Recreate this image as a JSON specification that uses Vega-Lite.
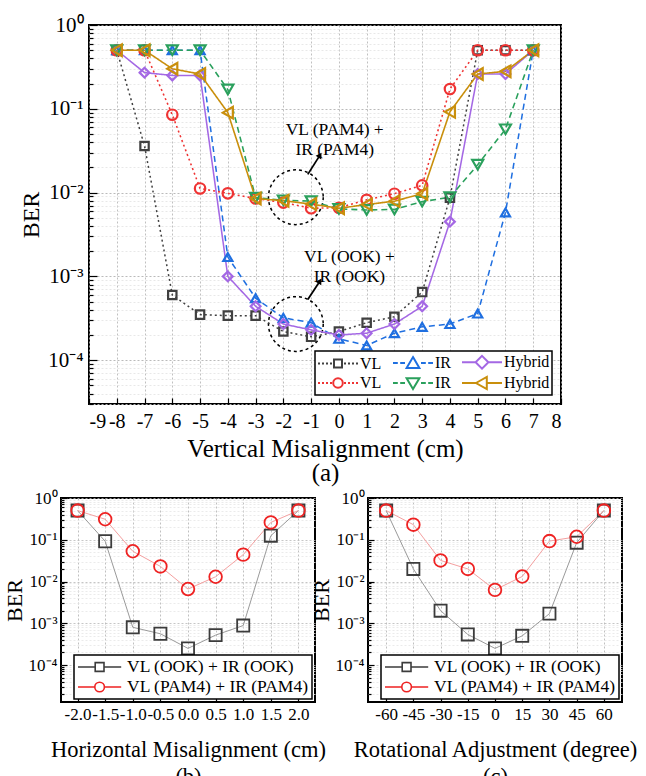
{
  "$schema": "https://vega.github.io/schema/vega-lite/v6.json",
  "padding": {"top": 13, "left": 2, "right": 0, "bottom": 0},
  "spacing": 2,
  "config": {
    "font": "Liberation Serif",
    "view": {"stroke": "black", "strokeWidth": 2},
    "axis": {"labelFont": "Liberation Serif", "titleFont": "Liberation Serif", "labelColor": "black", "titleColor": "black", "titleFontWeight": "normal", "domain": false, "tickColor": "black", "tickWidth": 1.2, "gridColor": "#b0b0b0", "gridDash": [2, 2], "gridWidth": 0.8, "labelOverlap": false},
    "legend": {"labelFont": "Liberation Serif", "labelColor": "black", "strokeColor": "black", "fillColor": "white", "strokeWidth": 1.5, "symbolOpacity": 1, "symbolStrokeWidth": 2, "symbolFillColor": "transparent", "labelLimit": 400},
    "text": {"font": "Liberation Serif"}
  },
  "datasets": {
    "va": [
      {"x": -8, "y": 0.5, "s": "VL OOK"}, {"x": -7, "y": 0.036, "s": "VL OOK"}, {"x": -6, "y": 0.0006, "s": "VL OOK"}, {"x": -5, "y": 0.00035, "s": "VL OOK"}, {"x": -4, "y": 0.00034, "s": "VL OOK"}, {"x": -3, "y": 0.00034, "s": "VL OOK"}, {"x": -2, "y": 0.00022, "s": "VL OOK"}, {"x": -1, "y": 0.00019, "s": "VL OOK"}, {"x": 0, "y": 0.00022, "s": "VL OOK"}, {"x": 1, "y": 0.00028, "s": "VL OOK"}, {"x": 2, "y": 0.00033, "s": "VL OOK"}, {"x": 3, "y": 0.00065, "s": "VL OOK"}, {"x": 4, "y": 0.0087, "s": "VL OOK"}, {"x": 5, "y": 0.5, "s": "VL OOK"}, {"x": 6, "y": 0.5, "s": "VL OOK"}, {"x": 7, "y": 0.5, "s": "VL OOK"},
      {"x": -8, "y": 0.5, "s": "IR OOK"}, {"x": -7, "y": 0.5, "s": "IR OOK"}, {"x": -6, "y": 0.5, "s": "IR OOK"}, {"x": -5, "y": 0.5, "s": "IR OOK"}, {"x": -4, "y": 0.0017, "s": "IR OOK"}, {"x": -3, "y": 0.00055, "s": "IR OOK"}, {"x": -2, "y": 0.00032, "s": "IR OOK"}, {"x": -1, "y": 0.00028, "s": "IR OOK"}, {"x": 0, "y": 0.00018, "s": "IR OOK"}, {"x": 1, "y": 0.00015, "s": "IR OOK"}, {"x": 2, "y": 0.00021, "s": "IR OOK"}, {"x": 3, "y": 0.00025, "s": "IR OOK"}, {"x": 4, "y": 0.00027, "s": "IR OOK"}, {"x": 5, "y": 0.00036, "s": "IR OOK"}, {"x": 6, "y": 0.0058, "s": "IR OOK"}, {"x": 7, "y": 0.5, "s": "IR OOK"},
      {"x": -8, "y": 0.5, "s": "Hybrid OOK"}, {"x": -7, "y": 0.27, "s": "Hybrid OOK"}, {"x": -6, "y": 0.25, "s": "Hybrid OOK"}, {"x": -5, "y": 0.25, "s": "Hybrid OOK"}, {"x": -4, "y": 0.001, "s": "Hybrid OOK"}, {"x": -3, "y": 0.00044, "s": "Hybrid OOK"}, {"x": -2, "y": 0.00027, "s": "Hybrid OOK"}, {"x": -1, "y": 0.00023, "s": "Hybrid OOK"}, {"x": 0, "y": 0.0002, "s": "Hybrid OOK"}, {"x": 1, "y": 0.00021, "s": "Hybrid OOK"}, {"x": 2, "y": 0.00027, "s": "Hybrid OOK"}, {"x": 3, "y": 0.00044, "s": "Hybrid OOK"}, {"x": 4, "y": 0.0045, "s": "Hybrid OOK"}, {"x": 5, "y": 0.26, "s": "Hybrid OOK"}, {"x": 6, "y": 0.26, "s": "Hybrid OOK"}, {"x": 7, "y": 0.5, "s": "Hybrid OOK"},
      {"x": -8, "y": 0.5, "s": "VL PAM4"}, {"x": -7, "y": 0.5, "s": "VL PAM4"}, {"x": -6, "y": 0.085, "s": "VL PAM4"}, {"x": -5, "y": 0.0112, "s": "VL PAM4"}, {"x": -4, "y": 0.0098, "s": "VL PAM4"}, {"x": -3, "y": 0.0085, "s": "VL PAM4"}, {"x": -2, "y": 0.0076, "s": "VL PAM4"}, {"x": -1, "y": 0.0065, "s": "VL PAM4"}, {"x": 0, "y": 0.0066, "s": "VL PAM4"}, {"x": 1, "y": 0.0082, "s": "VL PAM4"}, {"x": 2, "y": 0.0097, "s": "VL PAM4"}, {"x": 3, "y": 0.0122, "s": "VL PAM4"}, {"x": 4, "y": 0.172, "s": "VL PAM4"}, {"x": 5, "y": 0.5, "s": "VL PAM4"}, {"x": 6, "y": 0.5, "s": "VL PAM4"}, {"x": 7, "y": 0.5, "s": "VL PAM4"},
      {"x": -8, "y": 0.5, "s": "IR PAM4"}, {"x": -7, "y": 0.5, "s": "IR PAM4"}, {"x": -6, "y": 0.5, "s": "IR PAM4"}, {"x": -5, "y": 0.5, "s": "IR PAM4"}, {"x": -4, "y": 0.17, "s": "IR PAM4"}, {"x": -3, "y": 0.0087, "s": "IR PAM4"}, {"x": -2, "y": 0.0081, "s": "IR PAM4"}, {"x": -1, "y": 0.0079, "s": "IR PAM4"}, {"x": 0, "y": 0.0064, "s": "IR PAM4"}, {"x": 1, "y": 0.0062, "s": "IR PAM4"}, {"x": 2, "y": 0.0063, "s": "IR PAM4"}, {"x": 3, "y": 0.0078, "s": "IR PAM4"}, {"x": 4, "y": 0.0088, "s": "IR PAM4"}, {"x": 5, "y": 0.0215, "s": "IR PAM4"}, {"x": 6, "y": 0.057, "s": "IR PAM4"}, {"x": 7, "y": 0.5, "s": "IR PAM4"},
      {"x": -8, "y": 0.5, "s": "Hybrid PAM4"}, {"x": -7, "y": 0.5, "s": "Hybrid PAM4"}, {"x": -6, "y": 0.3, "s": "Hybrid PAM4"}, {"x": -5, "y": 0.26, "s": "Hybrid PAM4"}, {"x": -4, "y": 0.09, "s": "Hybrid PAM4"}, {"x": -3, "y": 0.0085, "s": "Hybrid PAM4"}, {"x": -2, "y": 0.008, "s": "Hybrid PAM4"}, {"x": -1, "y": 0.0073, "s": "Hybrid PAM4"}, {"x": 0, "y": 0.0065, "s": "Hybrid PAM4"}, {"x": 1, "y": 0.0072, "s": "Hybrid PAM4"}, {"x": 2, "y": 0.0079, "s": "Hybrid PAM4"}, {"x": 3, "y": 0.0097, "s": "Hybrid PAM4"}, {"x": 4, "y": 0.092, "s": "Hybrid PAM4"}, {"x": 5, "y": 0.26, "s": "Hybrid PAM4"}, {"x": 6, "y": 0.28, "s": "Hybrid PAM4"}, {"x": 7, "y": 0.5, "s": "Hybrid PAM4"}
    ],
    "circ": [{"x": -1.55, "y": 0.0088}, {"x": -1.55, "y": 0.00027}],
    "arrow": [{"x": -1.12, "y": 0.0165, "x2": -0.68, "y2": 0.028}, {"x": -1.12, "y": 0.00053, "x2": -0.68, "y2": 0.00088}],
    "head": [{"x": -0.68, "y": 0.028}, {"x": -0.68, "y": 0.00088}],
    "notes": [{"x": -0.15, "y": 0.056, "t": "VL (PAM4) +|IR (PAM4)"}, {"x": 0.38, "y": 0.0017, "t": "VL (OOK) +|IR (OOK)"}],
    "hb": [
      {"x": -2, "y": 0.5, "s": "OOK"}, {"x": -1.5, "y": 0.092, "s": "OOK"}, {"x": -1, "y": 0.0008, "s": "OOK"}, {"x": -0.5, "y": 0.00056, "s": "OOK"}, {"x": 0, "y": 0.00025, "s": "OOK"}, {"x": 0.5, "y": 0.00052, "s": "OOK"}, {"x": 1, "y": 0.00088, "s": "OOK"}, {"x": 1.5, "y": 0.125, "s": "OOK"}, {"x": 2, "y": 0.5, "s": "OOK"},
      {"x": -2, "y": 0.5, "s": "PAM4"}, {"x": -1.5, "y": 0.31, "s": "PAM4"}, {"x": -1, "y": 0.053, "s": "PAM4"}, {"x": -0.5, "y": 0.023, "s": "PAM4"}, {"x": 0, "y": 0.0066, "s": "PAM4"}, {"x": 0.5, "y": 0.013, "s": "PAM4"}, {"x": 1, "y": 0.044, "s": "PAM4"}, {"x": 1.5, "y": 0.26, "s": "PAM4"}, {"x": 2, "y": 0.5, "s": "PAM4"}
    ],
    "rc": [
      {"x": -60, "y": 0.5, "s": "OOK"}, {"x": -45, "y": 0.02, "s": "OOK"}, {"x": -30, "y": 0.002, "s": "OOK"}, {"x": -15, "y": 0.00054, "s": "OOK"}, {"x": 0, "y": 0.00025, "s": "OOK"}, {"x": 15, "y": 0.0005, "s": "OOK"}, {"x": 30, "y": 0.0017, "s": "OOK"}, {"x": 45, "y": 0.085, "s": "OOK"}, {"x": 60, "y": 0.5, "s": "OOK"},
      {"x": -60, "y": 0.5, "s": "PAM4"}, {"x": -45, "y": 0.23, "s": "PAM4"}, {"x": -30, "y": 0.032, "s": "PAM4"}, {"x": -15, "y": 0.02, "s": "PAM4"}, {"x": 0, "y": 0.0063, "s": "PAM4"}, {"x": 15, "y": 0.0132, "s": "PAM4"}, {"x": 30, "y": 0.093, "s": "PAM4"}, {"x": 45, "y": 0.118, "s": "PAM4"}, {"x": 60, "y": 0.5, "s": "PAM4"}
    ]
  },
  "vconcat": [
    {
      "spacing": -47,
      "hconcat": [
        {
          "width": 1,
          "height": 1,
          "view": {"stroke": null, "fill": "white"},
          "data": {"values": [{"k": 1}]},
          "mark": {"type": "point", "opacity": 0},
          "encoding": {}
        },
        {
          "width": 472,
          "height": 379,
          "encoding": {
            "x": {"field": "x", "type": "quantitative", "scale": {"domain": [-9, 8], "nice": false, "zero": false},
              "axis": {"values": [-9, -8, -7, -6, -5, -4, -3, -2, -1, 0, 1, 2, 3, 4, 5, 6, 7, 8], "format": "d", "labelExpr": "replace(datum.label, '−', '-')", "labelFontSize": 20, "title": ["Vertical Misalignment (cm)", "(a)"], "titleFontSize": 25, "titleLineHeight": 24, "titlePadding": 5, "tickSize": -6, "labelPadding": 13}},
            "y": {"field": "y", "type": "quantitative", "scale": {"type": "log", "domain": [0.00003, 1], "nice": false},
              "axis": {"values": [0.00003, 0.00004, 0.00005, 0.00006, 0.00007, 0.00008, 0.00009, 0.0001, 0.0002, 0.0003, 0.0004, 0.0005, 0.0006, 0.0007, 0.0008, 0.0009, 0.001, 0.002, 0.003, 0.004, 0.005, 0.006, 0.007, 0.008, 0.009, 0.01, 0.02, 0.03, 0.04, 0.05, 0.06, 0.07, 0.08, 0.09, 0.1, 0.2, 0.3, 0.4, 0.5, 0.6, 0.7, 0.8, 0.9, 1],
                "labelExpr": "abs(log(datum.value)/LN10 - round(log(datum.value)/LN10)) < 0.01 ? '10' + ['⁰','⁻¹','⁻²','⁻³','⁻⁴','⁻⁵'][-round(log(datum.value)/LN10)] : ''",
                "labelFontSize": 21, "title": "BER", "titleFontSize": 24, "titlePadding": 4,
                "tickSize": {"condition": {"test": "abs(log(datum.value)/LN10 - round(log(datum.value)/LN10)) < 0.01", "value": -8}, "value": -4},
                "labelPadding": 14,
                "gridColor": {"condition": {"test": "abs(log(datum.value)/LN10 - round(log(datum.value)/LN10)) < 0.01", "value": "#a8a8a8"}, "value": "#e2e2e2"}}}
          },
          "layer": [
            {
              "data": {"name": "circ"},
              "mark": {"type": "point", "shape": "circle", "size": 3000, "filled": false, "stroke": "black", "strokeWidth": 1.5, "strokeDash": [3, 3], "opacity": 1}
            },
            {
              "data": {"name": "va"},
              "mark": {"type": "line"},
              "encoding": {
                "color": {"field": "s", "type": "nominal", "legend": null, "scale": {"domain": ["VL OOK", "IR OOK", "Hybrid OOK", "VL PAM4", "IR PAM4", "Hybrid PAM4"], "range": ["#404040", "#1f6fe0", "#a468e4", "#ef3333", "#2aa05c", "#c98f0c"]}},
                "strokeDash": {"field": "s", "type": "nominal", "legend": null, "scale": {"domain": ["VL OOK", "IR OOK", "Hybrid OOK", "VL PAM4", "IR PAM4", "Hybrid PAM4"], "range": [[2, 3], [6, 4], [1, 0], [2, 3], [6, 4], [1, 0]]}},
                "strokeWidth": {"field": "s", "type": "nominal", "legend": null, "scale": {"domain": ["VL OOK", "IR OOK", "Hybrid OOK", "VL PAM4", "IR PAM4", "Hybrid PAM4"], "range": [1.5, 1.6, 2, 1.5, 1.6, 2]}}
              }
            },
            {
              "data": {"name": "va"},
              "mark": {"type": "point", "filled": false, "strokeWidth": 2.2, "opacity": 1},
              "encoding": {
                "color": {"field": "s", "type": "nominal", "legend": null, "scale": {"domain": ["VL OOK", "IR OOK", "Hybrid OOK", "VL PAM4", "IR PAM4", "Hybrid PAM4"], "range": ["#404040", "#1f6fe0", "#a468e4", "#ef3333", "#2aa05c", "#c98f0c"]}},
                "shape": {"field": "s", "type": "nominal", "legend": null, "scale": {"domain": ["VL OOK", "IR OOK", "Hybrid OOK", "VL PAM4", "IR PAM4", "Hybrid PAM4"], "range": ["square", "triangle-up", "diamond", "circle", "triangle-down", "triangle-left"]}},
                "size": {"field": "s", "type": "nominal", "legend": null, "scale": {"domain": ["VL OOK", "IR OOK", "Hybrid OOK", "VL PAM4", "IR PAM4", "Hybrid PAM4"], "range": [70, 160, 170, 90, 160, 160]}}
              }
            },
            {
              "data": {"name": "va"},
              "mark": {"type": "point", "filled": false, "opacity": 0},
              "encoding": {
                "color": {"field": "s", "type": "nominal", "scale": {"domain": ["VL OOK", "IR OOK", "Hybrid OOK", "VL PAM4", "IR PAM4", "Hybrid PAM4"], "range": ["#404040", "#1f6fe0", "#a468e4", "#ef3333", "#2aa05c", "#c98f0c"]},
                  "legend": {"title": null, "orient": "bottom-right", "offset": 9, "direction": "horizontal", "columns": 3, "columnPadding": 7, "rowPadding": 0, "padding": 2, "symbolSize": 256, "labelFontSize": 16, "labelOffset": 25, "labelExpr": "split(datum.label, ' ')[0]"}},
                "shape": {"field": "s", "type": "nominal", "scale": {"domain": ["VL OOK", "IR OOK", "Hybrid OOK", "VL PAM4", "IR PAM4", "Hybrid PAM4"], "range": [
                  "M-1,0h0.25M-0.5,0h0.25M0,0h0.25M0.5,0h0.25M2.25,0h0.25M2.75,0h0.25M3.25,0h0.25M3.75,0h0.25M1,-0.5h1v1h-1z",
                  "M-1,0h0.6M-0.1,0h0.6M2.5,0h0.6M3.4,0h0.6M1.5,-0.75L2.3,0.6L0.7,0.6z",
                  "M-1,0H0.7M2.3,0H4M1.5,-0.8L2.3,0L1.5,0.8L0.7,0z",
                  "M-1,0h0.25M-0.5,0h0.25M0,0h0.25M0.5,0h0.25M2.25,0h0.25M2.75,0h0.25M3.25,0h0.25M3.75,0h0.25M2.1,0A0.6,0.6,0,1,1,0.9,0A0.6,0.6,0,1,1,2.1,0z",
                  "M-1,0h0.6M-0.1,0h0.6M2.5,0h0.6M3.4,0h0.6M1.5,0.75L2.3,-0.6L0.7,-0.6z",
                  "M-1,0H0.75M2.1,0H4M0.75,0L2.1,-0.75L2.1,0.75z"]},
                  "legend": {"title": null, "orient": "bottom-right", "offset": 9, "direction": "horizontal", "columns": 3, "columnPadding": 7, "rowPadding": 0, "padding": 2, "symbolSize": 256, "labelFontSize": 16, "labelOffset": 25, "labelExpr": "split(datum.label, ' ')[0]"}}
              }
            },
            {
              "data": {"name": "arrow"},
              "mark": {"type": "rule", "color": "black", "strokeWidth": 1.8},
              "encoding": {"x2": {"field": "x2"}, "y2": {"field": "y2"}}
            },
            {
              "data": {"name": "head"},
              "mark": {"type": "point", "shape": "triangle-up", "angle": 33, "size": 45, "filled": true, "color": "black", "opacity": 1}
            },
            {
              "data": {"name": "notes"},
              "mark": {"type": "text", "fontSize": 17.5, "lineHeight": 20, "lineBreak": "|", "align": "center", "baseline": "middle", "color": "black"},
              "encoding": {"text": {"field": "t"}}
            }
          ],
          "resolve": {"scale": {"color": "independent", "shape": "independent"}}
        }
      ]
    },
    {
      "spacing": -18,
      "hconcat": [
        {
          "width": 254,
          "height": 204,
          "encoding": {
            "x": {"field": "x", "type": "quantitative", "scale": {"domain": [-2.3, 2.3], "nice": false, "zero": false},
              "axis": {"values": [-2, -1.5, -1, -0.5, 0, 0.5, 1, 1.5, 2], "format": ".1f", "labelExpr": "replace(datum.label, '−', '-')", "labelFontSize": 17, "title": ["Horizontal Misalignment (cm)", "(b)"], "titleFontSize": 22.5, "titleLineHeight": 27, "titlePadding": 16, "tickSize": -5, "labelPadding": 9}},
            "y": {"field": "y", "type": "quantitative", "scale": {"type": "log", "domain": [0.000013, 1], "nice": false},
              "axis": {"values": [0.00002, 0.00003, 0.00004, 0.00005, 0.00006, 0.00007, 0.00008, 0.00009, 0.0001, 0.0002, 0.0003, 0.0004, 0.0005, 0.0006, 0.0007, 0.0008, 0.0009, 0.001, 0.002, 0.003, 0.004, 0.005, 0.006, 0.007, 0.008, 0.009, 0.01, 0.02, 0.03, 0.04, 0.05, 0.06, 0.07, 0.08, 0.09, 0.1, 0.2, 0.3, 0.4, 0.5, 0.6, 0.7, 0.8, 0.9, 1],
                "labelExpr": "abs(log(datum.value)/LN10 - round(log(datum.value)/LN10)) < 0.01 ? '10' + ['⁰','⁻¹','⁻²','⁻³','⁻⁴','⁻⁵'][-round(log(datum.value)/LN10)] : ''",
                "labelFontSize": 17, "title": "BER", "titleFontSize": 22, "titlePadding": 2,
                "tickSize": {"condition": {"test": "abs(log(datum.value)/LN10 - round(log(datum.value)/LN10)) < 0.01", "value": -6}, "value": -3},
                "labelPadding": 10,
                "gridColor": {"condition": {"test": "abs(log(datum.value)/LN10 - round(log(datum.value)/LN10)) < 0.01", "value": "#b8b8b8"}, "value": "#e6e6e6"}}}
          },
          "layer": [
            {
              "data": {"name": "hb"},
              "mark": {"type": "line", "strokeWidth": 1},
              "encoding": {"color": {"field": "s", "type": "nominal", "legend": null, "scale": {"domain": ["OOK", "PAM4"], "range": ["#9a9a9a", "#f4a0a0"]}}}
            },
            {
              "data": {"name": "hb"},
              "mark": {"type": "point", "filled": false, "strokeWidth": 1.8, "opacity": 1},
              "encoding": {
                "color": {"field": "s", "type": "nominal", "legend": null, "scale": {"domain": ["OOK", "PAM4"], "range": ["#3c3c3c", "#ee2222"]}},
                "shape": {"field": "s", "type": "nominal", "legend": null, "scale": {"domain": ["OOK", "PAM4"], "range": ["square", "circle"]}},
                "size": {"field": "s", "type": "nominal", "legend": null, "scale": {"domain": ["OOK", "PAM4"], "range": [50, 70]}}
              }
            },
            {
              "data": {"name": "hb"},
              "mark": {"type": "point", "filled": false, "opacity": 0},
              "encoding": {
                "color": {"field": "s", "type": "nominal", "scale": {"domain": ["OOK", "PAM4"], "range": ["#3c3c3c", "#ee2222"]},
                  "legend": {"title": null, "orient": "bottom-right", "offset": 3, "padding": 3, "rowPadding": 2, "symbolSize": 256, "labelFontSize": 17.5, "labelOffset": 32, "symbolStrokeWidth": 1.6, "labelExpr": "datum.label == 'OOK' ? 'VL (OOK) + IR (OOK)' : 'VL (PAM4) + IR (PAM4)'"}},
                "shape": {"field": "s", "type": "nominal", "scale": {"domain": ["OOK", "PAM4"], "range": ["M-1,0H1.15M2.25,0H4.4M1.15,-0.55h1.1v1.1h-1.1z", "M-1,0H1.1M2.3,0H4.4M2.3,0A0.6,0.6,0,1,1,1.1,0A0.6,0.6,0,1,1,2.3,0z"]},
                  "legend": {"title": null, "orient": "bottom-right", "offset": 3, "padding": 3, "rowPadding": 2, "symbolSize": 256, "labelFontSize": 17.5, "labelOffset": 32, "symbolStrokeWidth": 1.6, "labelExpr": "datum.label == 'OOK' ? 'VL (OOK) + IR (OOK)' : 'VL (PAM4) + IR (PAM4)'"}}
              }
            }
          ],
          "resolve": {"scale": {"color": "independent", "shape": "independent"}}
        },
        {
          "width": 254,
          "height": 204,
          "encoding": {
            "x": {"field": "x", "type": "quantitative", "scale": {"domain": [-70, 70], "nice": false, "zero": false},
              "axis": {"values": [-60, -45, -30, -15, 0, 15, 30, 45, 60], "format": "d", "labelExpr": "replace(datum.label, '−', '-')", "labelFontSize": 17, "title": ["Rotational Adjustment (degree)", "(c)"], "titleFontSize": 22.5, "titleLineHeight": 27, "titlePadding": 16, "tickSize": -5, "labelPadding": 9}},
            "y": {"field": "y", "type": "quantitative", "scale": {"type": "log", "domain": [0.000013, 1], "nice": false},
              "axis": {"values": [0.00002, 0.00003, 0.00004, 0.00005, 0.00006, 0.00007, 0.00008, 0.00009, 0.0001, 0.0002, 0.0003, 0.0004, 0.0005, 0.0006, 0.0007, 0.0008, 0.0009, 0.001, 0.002, 0.003, 0.004, 0.005, 0.006, 0.007, 0.008, 0.009, 0.01, 0.02, 0.03, 0.04, 0.05, 0.06, 0.07, 0.08, 0.09, 0.1, 0.2, 0.3, 0.4, 0.5, 0.6, 0.7, 0.8, 0.9, 1],
                "labelExpr": "abs(log(datum.value)/LN10 - round(log(datum.value)/LN10)) < 0.01 ? '10' + ['⁰','⁻¹','⁻²','⁻³','⁻⁴','⁻⁵'][-round(log(datum.value)/LN10)] : ''",
                "labelFontSize": 17, "title": "BER", "titleFontSize": 22, "titlePadding": 2,
                "tickSize": {"condition": {"test": "abs(log(datum.value)/LN10 - round(log(datum.value)/LN10)) < 0.01", "value": -6}, "value": -3},
                "labelPadding": 10,
                "gridColor": {"condition": {"test": "abs(log(datum.value)/LN10 - round(log(datum.value)/LN10)) < 0.01", "value": "#b8b8b8"}, "value": "#e6e6e6"}}}
          },
          "layer": [
            {
              "data": {"name": "rc"},
              "mark": {"type": "line", "strokeWidth": 1},
              "encoding": {"color": {"field": "s", "type": "nominal", "legend": null, "scale": {"domain": ["OOK", "PAM4"], "range": ["#9a9a9a", "#f4a0a0"]}}}
            },
            {
              "data": {"name": "rc"},
              "mark": {"type": "point", "filled": false, "strokeWidth": 1.8, "opacity": 1},
              "encoding": {
                "color": {"field": "s", "type": "nominal", "legend": null, "scale": {"domain": ["OOK", "PAM4"], "range": ["#3c3c3c", "#ee2222"]}},
                "shape": {"field": "s", "type": "nominal", "legend": null, "scale": {"domain": ["OOK", "PAM4"], "range": ["square", "circle"]}},
                "size": {"field": "s", "type": "nominal", "legend": null, "scale": {"domain": ["OOK", "PAM4"], "range": [50, 70]}}
              }
            },
            {
              "data": {"name": "rc"},
              "mark": {"type": "point", "filled": false, "opacity": 0},
              "encoding": {
                "color": {"field": "s", "type": "nominal", "scale": {"domain": ["OOK", "PAM4"], "range": ["#3c3c3c", "#ee2222"]},
                  "legend": {"title": null, "orient": "bottom-right", "offset": 3, "padding": 3, "rowPadding": 2, "symbolSize": 256, "labelFontSize": 17.5, "labelOffset": 32, "symbolStrokeWidth": 1.6, "labelExpr": "datum.label == 'OOK' ? 'VL (OOK) + IR (OOK)' : 'VL (PAM4) + IR (PAM4)'"}},
                "shape": {"field": "s", "type": "nominal", "scale": {"domain": ["OOK", "PAM4"], "range": ["M-1,0H1.15M2.25,0H4.4M1.15,-0.55h1.1v1.1h-1.1z", "M-1,0H1.1M2.3,0H4.4M2.3,0A0.6,0.6,0,1,1,1.1,0A0.6,0.6,0,1,1,2.3,0z"]},
                  "legend": {"title": null, "orient": "bottom-right", "offset": 3, "padding": 3, "rowPadding": 2, "symbolSize": 256, "labelFontSize": 17.5, "labelOffset": 32, "symbolStrokeWidth": 1.6, "labelExpr": "datum.label == 'OOK' ? 'VL (OOK) + IR (OOK)' : 'VL (PAM4) + IR (PAM4)'"}}
              }
            }
          ],
          "resolve": {"scale": {"color": "independent", "shape": "independent"}}
        }
      ]
    }
  ]
}
